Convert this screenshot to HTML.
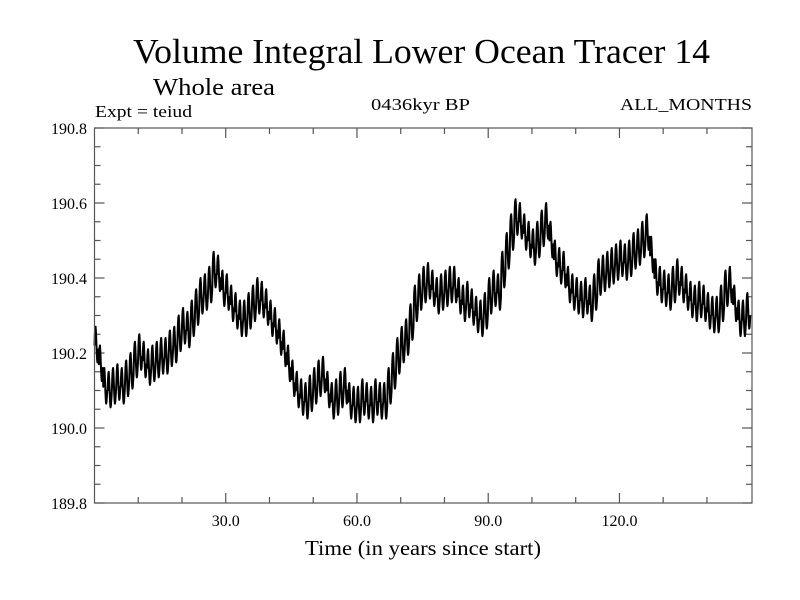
<!DOCTYPE html>
<html><head><meta charset="utf-8"><style>
html,body{margin:0;padding:0;background:#fff;}
svg{display:block;font-family:"Liberation Serif",serif;}
</style></head><body>
<svg id="chart" width="800" height="600" viewBox="0 0 800 600" xmlns="http://www.w3.org/2000/svg">
<rect width="800" height="600" fill="#fff"/>
<text x="133" y="63" font-size="35" textLength="577" lengthAdjust="spacingAndGlyphs">Volume Integral Lower Ocean Tracer 14</text>
<text x="153" y="95" font-size="24" textLength="122" lengthAdjust="spacingAndGlyphs">Whole area</text>
<text x="95" y="117" font-size="17" textLength="97" lengthAdjust="spacingAndGlyphs">Expt = teiud</text>
<text x="371" y="110" font-size="17" textLength="99" lengthAdjust="spacingAndGlyphs">0436kyr BP</text>
<text x="620" y="110" font-size="17" textLength="132" lengthAdjust="spacingAndGlyphs">ALL_MONTHS</text>
<g id="axes"></g>
<path id="series" fill="none" stroke="#000" stroke-width="2" stroke-linejoin="round"/>
<rect x="94.5" y="128" width="657.5" height="375" fill="none" stroke="#555" stroke-width="1.2"/>
<text x="423" y="555" font-size="21" text-anchor="middle" textLength="236" lengthAdjust="spacingAndGlyphs">Time (in years since start)</text>
</svg>
<script>
const annualMeans = [
190.22,190.17,190.11,190.10,190.11,190.12,190.11,190.13,190.15,190.18,
190.20,190.18,190.16,190.17,190.18,190.19,190.19,190.21,190.22,190.25,
190.27,190.26,190.29,190.32,190.35,190.36,190.38,190.42,190.41,190.37,
190.36,190.33,190.31,190.29,190.29,190.31,190.33,190.35,190.34,190.32,
190.29,190.27,190.24,190.21,190.17,190.13,190.10,190.08,190.07,190.09,
190.11,190.13,190.14,190.10,190.07,190.08,190.10,190.11,190.07,190.06,
190.06,190.08,190.07,190.06,190.08,190.07,190.07,190.11,190.15,190.19,
190.22,190.24,190.28,190.33,190.36,190.38,190.39,190.37,190.35,190.36,
190.37,190.38,190.38,190.35,190.33,190.34,190.32,190.30,190.29,190.31,
190.35,190.37,190.36,190.42,190.47,190.52,190.56,190.55,190.52,190.50,
190.48,190.50,190.53,190.55,190.50,190.45,190.43,190.42,190.38,190.36,
190.35,190.34,190.35,190.33,190.36,190.40,190.41,190.42,190.43,190.44,
190.45,190.44,190.45,190.47,190.48,190.50,190.52,190.46,190.40,190.38,
190.37,190.36,190.38,190.40,190.38,190.36,190.34,190.33,190.34,190.33,
190.31,190.30,190.30,190.33,190.37,190.38,190.33,190.29,190.29,190.31];
const seasonalCycle = [0.00,0.03,0.045,0.05,0.035,0.01,-0.015,-0.035,-0.045,-0.04,-0.025,-0.01];
const xTickValues = [30,60,90,120];
const xTickLabels = ["30.0","60.0","90.0","120.0"];
const yTickValues = [189.8,190.0,190.2,190.4,190.6,190.8];
const yTickLabels = ["189.8","190.0","190.2","190.4","190.6","190.8"];

const L=94.5,R=752,T=128,B=503,X0=0,X1=150.3,Y0=189.8,Y1=190.8;
const sx=v=>L+(v-X0)/(X1-X0)*(R-L);
const sy=v=>B-(v-Y0)/(Y1-Y0)*(B-T);
const NS="http://www.w3.org/2000/svg";
const axes=document.getElementById('axes');
function line(x1,y1,x2,y2){const l=document.createElementNS(NS,'line');
l.setAttribute('x1',x1);l.setAttribute('y1',y1);l.setAttribute('x2',x2);l.setAttribute('y2',y2);
l.setAttribute('stroke','#555');l.setAttribute('stroke-width','1.2');


axes.appendChild(l);}
function text(x,y,s,anchor){const t=document.createElementNS(NS,'text');
t.setAttribute('x',x);t.setAttribute('y',y);t.setAttribute('font-size','16');t.setAttribute('text-anchor',anchor);
t.textContent=s;


axes.appendChild(t);}
for(let v=10;v<150;v+=10){const x=sx(v);const big=v%30===0;line(x,B,x,B-(big?10:6));line(x,T,x,T+(big?10:6));}
for(let v=Y0;v<=Y1+1e-9;v+=0.05){const y=sy(v);const big=Math.abs(Math.round(v*5)-v*5)<1e-6;line(L,y,L+(big?10:6),y);line(R,y,R-(big?10:6),y);}
xTickValues.forEach((v,i)=>text(sx(v),526,xTickLabels[i],'middle'));
yTickValues.forEach((v,i)=>text(87,sy(v)+6,yTickLabels[i],'end'));
let d='';
annualMeans.forEach((m,yr)=>{seasonalCycle.forEach((s,mo)=>{const t=yr+mo/12;d+=(d?'L':'M')+sx(t).toFixed(2)+' '+sy(m+s).toFixed(2);});});
document.getElementById('series').setAttribute('d',d);
</script>
</body></html>
